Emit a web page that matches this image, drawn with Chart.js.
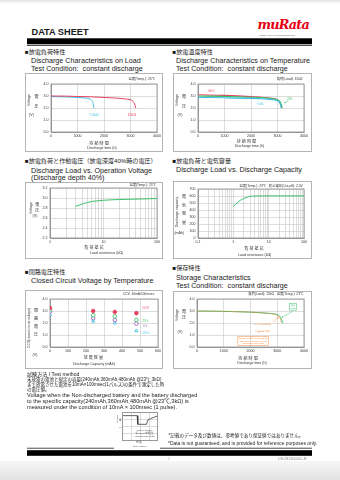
<!DOCTYPE html>
<html lang="ja">
<head>
<meta charset="utf-8">
<title>CR2450 Data Sheet</title>
<script src="https://cdn.jsdelivr.net/npm/chart.js@4.4.1/dist/chart.umd.min.js"></script>
<style>
  html, body { margin: 0; padding: 0; }
  body { width: 340px; height: 480px; position: relative; overflow: hidden; background: #fff;
         font-family: "Liberation Sans", Arial, "Noto Sans CJK JP", sans-serif; color: #1a1a1a; }
  .t { position: absolute; white-space: nowrap; line-height: 1; }
  .l { transform: translateY(-50%); }
  .c { transform: translate(-50%, -50%); }
  .r { transform: translate(-100%, -50%); }
  .rot { transform: translate(-50%, -50%) rotate(-90deg); }
  .jt { font-size: 6.1px; }
  .et { font-size: 7.2px; }
  .ax { font-size: 3.6px; color: #333; }
  .hd { font-size: 3.3px; color: #333; }
  .jp { font-size: 4px; color: #333; }
  .bj { font-size: 4.5px; color: #222; }
  .be { font-size: 5.6px; color: #222; }
  canvas { position: absolute; outline: 1px solid #b4b4b4; outline-offset: -1px; }
  #rules { position: absolute; left: 0; top: 0; }
</style>
</head>
<body>
<!-- 罫線と帯 -->
<svg id="rules" width="340" height="480" viewBox="0 0 340 480">
  <defs>
    <linearGradient id="shTop" x1="0" y1="0" x2="0" y2="1"><stop offset="0" stop-color="#e4e4e4"/><stop offset="1" stop-color="#fff"/></linearGradient>
    <linearGradient id="shBot" x1="0" y1="0" x2="0" y2="1"><stop offset="0" stop-color="#f7f7f7"/><stop offset="1" stop-color="#e2e2e2"/></linearGradient>
  </defs>
  <rect x="0" y="0" width="340" height="4" fill="url(#shTop)"/>
  <rect x="0" y="461" width="340" height="19" fill="url(#shBot)"/>
  <rect x="27" y="38.3" width="285" height="6" fill="#000"/>
  <rect x="27" y="45.2" width="285" height="0.7" fill="#000"/>
  <rect x="27" y="447.8" width="87" height="0.7" fill="#000"/>
  <rect x="160" y="447.8" width="152" height="0.7" fill="#000"/>
  <rect x="27" y="450.2" width="285" height="5.6" fill="#000"/>
</svg>

<!-- ヘッダー -->
<div class="t l" style="left:31.5px;top:33px;font-size:9.2px;font-weight:bold">DATA SHEET</div>
<div class="t" style="left:257.5px;top:18.5px;font-size:12.8px;font-weight:bold;font-style:italic;color:#e60012;font-family:'DejaVu Serif',serif;letter-spacing:-0.8px">muRata</div>
<div class="t" style="left:259px;top:33.6px;font-size:2.3px;color:#555;letter-spacing:0.1px">INNOVATOR IN ELECTRONICS</div>

<!-- 見出し -->
<div class="t l jt" style="left:25px;top:52px">■放電負荷特性</div>
<div class="t l et" style="left:31px;top:61px">Discharge Characteristics on Load</div>
<div class="t l et" style="left:31px;top:69px">Test Condition:&nbsp; constant discharge</div>

<div class="t l jt" style="left:172.5px;top:52px">■放電温度特性</div>
<div class="t l et" style="left:176px;top:61px">Discharge Characteristics on Temperature</div>
<div class="t l et" style="left:176px;top:69px">Test Condition:&nbsp; constant discharge</div>

<div class="t l jt" style="left:25px;top:161px">■放電負荷と作動電圧（放電深度40%時の電圧）</div>
<div class="t l et" style="left:31px;top:170.5px">Discharge Load vs. Operation Voltage</div>
<div class="t l et" style="left:31px;top:178.3px">(Discharge depth 40%)</div>

<div class="t l jt" style="left:172.5px;top:161px">■放電負荷と電気容量</div>
<div class="t l et" style="left:176px;top:170px">Discharge Load vs. Discharge Capacity</div>

<div class="t l jt" style="left:25px;top:272px">■閉路電圧特性</div>
<div class="t l et" style="left:31px;top:281.3px">Closed Circuit Voltage by Temperature</div>

<div class="t l jt" style="left:172.5px;top:268px">■保存特性</div>
<div class="t l et" style="left:176px;top:277.7px">Storage Characteristics</div>
<div class="t l et" style="left:176px;top:286px">Test Condition:&nbsp; constant discharge</div>

<!-- グラフ -->
<canvas id="cLoad" width="138" height="79" style="left:25px;top:73px"></canvas>
<canvas id="cTemp" width="139" height="79" style="left:173px;top:73px"></canvas>
<canvas id="cOpV" width="138" height="77" style="left:25px;top:182px"></canvas>
<canvas id="cCap" width="139" height="78" style="left:173px;top:181px"></canvas>
<canvas id="cCcv" width="138" height="79" style="left:25px;top:290px"></canvas>
<canvas id="cStore" width="139" height="78" style="left:173px;top:291px"></canvas>
<canvas id="cPulse" width="36" height="29" style="left:122px;top:411.5px;outline-color:#999"></canvas>

<!-- 軸ラベル: 放電負荷特性 -->
<div class="t r hd" style="left:155px;top:79.5px">温度(Temp.): 23℃</div>
<div class="t rot ax" style="left:30px;top:100px">Voltage</div>
<div class="t c jp" style="left:36.5px;top:97px">電</div>
<div class="t c jp" style="left:36.5px;top:107px">圧</div>
<div class="t c ax" style="left:31.5px;top:116px">(V)</div>
<div class="t c jp" style="left:99px;top:144.3px">持 続 時 間</div>
<div class="t c ax" style="left:102px;top:149.3px">Discharge time (h)</div>

<!-- 放電温度特性 -->
<div class="t r hd" style="left:302.5px;top:79.5px">負荷(Load): 15kΩ</div>
<div class="t rot ax" style="left:178px;top:100px">Voltage</div>
<div class="t c jp" style="left:184px;top:97px">電</div>
<div class="t c jp" style="left:184px;top:107px">圧</div>
<div class="t c ax" style="left:180px;top:115.7px">(V)</div>
<div class="t c jp" style="left:246.5px;top:141.8px">持 続 時 間</div>
<div class="t c ax" style="left:249.5px;top:147.3px">Discharge time (h)</div>

<!-- 放電負荷と作動電圧 -->
<div class="t r hd" style="left:156px;top:185.8px">温度(Temp.): 23℃</div>
<div class="t rot ax" style="left:31.7px;top:208.3px">Voltage</div>
<div class="t c jp" style="left:37.3px;top:205px">電</div>
<div class="t c jp" style="left:37.3px;top:210.5px">圧</div>
<div class="t c ax" style="left:35px;top:217.3px">(V)</div>
<div class="t c jp" style="left:94px;top:247.7px">負 荷 抵 抗</div>
<div class="t c ax" style="left:106.5px;top:254.3px">Load resistance (kΩ)</div>

<!-- 放電負荷と電気容量 -->
<div class="t r hd" style="left:302.7px;top:186.7px">温度(Temp.): 23℃&nbsp;&nbsp; 終止電圧(Cut-off): 2.0V</div>
<div class="t rot ax" style="left:178.3px;top:211.7px">Discharge capacity</div>
<div class="t c jp" style="left:184px;top:197px">電</div>
<div class="t c jp" style="left:184px;top:205.5px">気</div>
<div class="t c jp" style="left:184px;top:214px">容</div>
<div class="t c jp" style="left:184px;top:222.5px">量</div>
<div class="t c ax" style="left:179.3px;top:234px">(mAh)</div>
<div class="t c jp" style="left:254px;top:249px">負 荷 抵 抗</div>
<div class="t c ax" style="left:254.7px;top:255.7px">Load resistance (kΩ)</div>

<!-- 閉路電圧特性 -->
<div class="t r hd" style="left:154.3px;top:295.3px">CCV: 10mA/100msec</div>
<div class="t rot ax" style="left:30px;top:328px;font-size:3.3px">CCV(closed circuit voltage)</div>
<div class="t c jp" style="left:36px;top:311px">閉</div>
<div class="t c jp" style="left:36px;top:319px">路</div>
<div class="t c jp" style="left:36px;top:327px">電</div>
<div class="t c jp" style="left:36px;top:335px">圧</div>
<div class="t c ax" style="left:35px;top:356.3px">(V)</div>
<div class="t c jp" style="left:93.3px;top:358px">放 電 容 量</div>
<div class="t c ax" style="left:94px;top:365.3px">Discharge Capacity (mAh)</div>

<!-- 保存特性 -->
<div class="t r hd" style="left:303.3px;top:295.3px">負荷(Load): 15kΩ&nbsp;&nbsp; 温度(Temp.): 23℃</div>
<div class="t rot ax" style="left:178.3px;top:315.3px">Voltage</div>
<div class="t c jp" style="left:184px;top:312px">電</div>
<div class="t c jp" style="left:184px;top:318px">圧</div>
<div class="t c ax" style="left:180px;top:333px">(V)</div>
<div class="t c jp" style="left:248px;top:358.7px">持 続 時 間</div>
<div class="t c ax" style="left:252px;top:364.3px">Discharge time (h)</div>

<!-- 試験方法 -->
<div class="t l" style="left:27px;top:375px;font-size:5.1px">試験方法 / Test method</div>
<div class="t l bj" style="left:27px;top:380.3px">未放電の電池と規定の容量(240mAh,360mAh,480mAh @23℃,3kΩ)</div>
<div class="t l bj" style="left:27px;top:385.1px">まで放電させた電池を10mA×100msec(1パルス)の条件で測定した時</div>
<div class="t l bj" style="left:27px;top:389.9px">の電圧値。</div>
<div class="t l be" style="left:27px;top:396.3px">Voltage when the Non-discharged battery and the battery discharged</div>
<div class="t l be" style="left:27px;top:402.2px">to the specific capacity(240mAh,360mAh,480mAh @23℃,3kΩ) is</div>
<div class="t l be" style="left:27px;top:408.1px">measured under the condition of 10mA × 100msec (1 pulse).</div>

<div class="t rot" style="left:117.5px;top:419px;font-size:2.4px;color:#444">Voltage</div>
<div class="t c" style="left:120.3px;top:420.5px;font-size:2.4px;color:#444">電</div>
<div class="t c" style="left:120.3px;top:427.7px;font-size:2.4px;color:#444">(V)</div>
<div class="t c" style="left:144.5px;top:430.3px;font-size:2px;color:#444">Width of 100msec</div>
<div class="t c" style="left:144.5px;top:433.3px;font-size:2px;color:#444">幅(100ms)の電圧値</div>
<div class="t c" style="left:144.5px;top:436.3px;font-size:2px;color:#444">Load and Pulse length</div>
<div class="t c" style="left:139px;top:443px;font-size:2.4px;color:#444">時 間</div>
<div class="t c" style="left:140px;top:446.8px;font-size:2.4px;color:#444">time (msec.)</div>

<!-- 注記・フッター -->
<div class="t l" style="left:168.5px;top:435.7px;font-size:4.6px;color:#222">*記載のデータ及び数値は、参考値であり保証値ではありません。</div>
<div class="t l" style="left:168px;top:444px;font-size:4.9px;color:#222">*Data is not guaranteed, and is provided for reference purposes only.</div>
<div class="t c" style="left:169px;top:459.5px;font-size:2.6px;color:#888">1</div>
<div class="t r" style="left:306.7px;top:459.5px;font-size:3.2px;color:#888">DS-CR2450-002-JE</div>

<script>
// ---- 放電負荷特性 (15kΩ / 7.5kΩ) ----
const hours15k = [0, 500, 1000, 1500, 2000, 2500, 2800, 3000, 3100, 3150, 3200];
const volts15k = [3.0, 2.99, 2.96, 2.93, 2.88, 2.82, 2.76, 2.68, 2.55, 2.35, 2.0];
const hours7k5 = [0, 300, 600, 900, 1200, 1400, 1500, 1560, 1600, 1620];
const volts7k5 = [2.95, 2.94, 2.92, 2.89, 2.85, 2.8, 2.7, 2.55, 2.3, 2.0];

// ---- 放電温度特性 ----
const hours60c = [0, 1000, 2000, 2500, 2800, 3000, 3080, 3120, 3150];
const volts60c = [3.1, 3.05, 2.95, 2.88, 2.8, 2.68, 2.5, 2.25, 2.0];
const hours23c = [0, 1000, 2000, 2500, 2800, 3000, 3100, 3150, 3180];
const volts23c = [3.0, 2.97, 2.9, 2.84, 2.78, 2.68, 2.5, 2.25, 2.0];
const hoursM10c = [0, 1000, 2000, 2500, 2800, 3000, 3080, 3120, 3150];
const voltsM10c = [2.88, 2.85, 2.8, 2.75, 2.7, 2.6, 2.45, 2.22, 2.0];

// ---- 放電負荷と作動電圧 ----
const opLoad = [3, 4, 5, 6, 8, 10, 20, 50, 100];
const opVolt = [2.83, 2.88, 2.91, 2.93, 2.945, 2.955, 2.97, 2.98, 2.99];

// ---- 放電負荷と電気容量 ----
const capLoad = [1, 1.3, 1.6, 2, 2.5, 3, 4, 6, 10, 100];
const capMah = [450, 505, 540, 565, 585, 595, 600, 601, 602, 602];

// ---- 閉路電圧特性 ----
const ccvCapacity = [0, 240, 360, 480];
const ocvVolt = [3.25, 3.0, 2.92, 2.82];
const ccv23Volt = [3.12, 2.65, 2.55, 2.25];
const ccv0Volt = [2.95, 2.4, 2.25, 1.95];
const ccvM20Volt = [2.7, 2.15, 2.0, 1.35];

// ---- 保存特性 ----
const storeHoursInit = [0, 500, 1000, 1500, 2000, 2500, 2800, 3000, 3100, 3160, 3200];
const storeVoltInit = [3.0, 2.99, 2.97, 2.94, 2.9, 2.84, 2.78, 2.7, 2.55, 2.3, 2.0];
const storeHoursAged = [0, 500, 1000, 1500, 2000, 2500, 2800, 3000, 3080, 3130, 3160];
const storeVoltAged = [3.0, 2.99, 2.97, 2.94, 2.9, 2.83, 2.76, 2.66, 2.5, 2.2, 2.0];

// ---- パルス波形 (試験方法) ----
const pulseTime = [0, 42, 44, 68, 72, 80, 90, 100];
const pulseVolt = [3.5, 3.5, 2.3, 2.3, 2.9, 3.1, 3.3, 3.45];

// 目盛り
const hourTicks = [0, 1000, 2000, 3000, 4000];
const voltTicks = [0, 1, 2, 3, 4];
const opVoltTicks = [2.2, 2.4, 2.6, 2.8, 3.0, 3.2];
const capTicks = [0, 100, 200, 300, 400, 500, 600, 700];
const ccvCapTicks = [0, 100, 200, 300, 400, 500, 600];
const logGrid1to100 = [1, 2, 3, 4, 5, 6, 7, 8, 9, 10, 20, 30, 40, 50, 60, 70, 80, 90, 100];
const logGrid01to100 = [0.1, 0.2, 0.3, 0.4, 0.5, 0.6, 0.7, 0.8, 0.9].concat(logGrid1to100);
const logLabels = [0.1, 1, 10, 100];
const pulseTimeTicks = [0, 25, 50, 75, 100];
const pulseVoltTicks = [0, 1, 2, 3, 4];

const FONT = '"Liberation Sans", Arial, sans-serif';
Chart.defaults.font.family = FONT;
Chart.defaults.font.size = 3.6;
Chart.defaults.color = '#333';
Chart.defaults.animation = false;
Chart.defaults.plugins.legend.display = false;
Chart.defaults.plugins.tooltip.enabled = false;

const GRID = '#c6c6c6';
const FRAME = '#8c8c8c';
const RED = '#e8405f';
const BLUE = '#3fc1e6';
const GREEN = '#3cbf6a';
const PURPLE = '#9a5fc0';
const ORANGE = '#f08a3c';

function xy(xs, ys) { return xs.map((x, i) => ({ x, y: ys[i] })); }

// 軸: 目盛りの位置を配列から固定し、描画領域の幅/高さも固定する
function axis(type, gridTicks, fit, horizontal, label) {
  return {
    type,
    min: gridTicks[0],
    max: gridTicks[gridTicks.length - 1],
    afterBuildTicks: s => { s.ticks = gridTicks.map(v => ({ value: v })); },
    afterFit: s => { if (horizontal) s.height = fit; else s.width = fit; },
    grid: { color: GRID, lineWidth: 0.6, drawTicks: false },
    border: { color: FRAME, width: 0.8 },
    ticks: { padding: horizontal ? 2 : 2.4, maxRotation: 0, autoSkip: false, callback: label }
  };
}

const oneDec = v => v.toFixed(1);
const plain = v => String(v);
const logLabel = v => (logLabels.includes(v) ? String(v) : '');

function line(data, color, extra) {
  return Object.assign({
    data, borderColor: color, borderWidth: 1, pointRadius: 0,
    cubicInterpolationMode: 'monotone', fill: false
  }, extra || {});
}

// グラフ枠
const frame = {
  id: 'frame',
  beforeDatasetsDraw(chart) {
    const { ctx, chartArea: a } = chart;
    ctx.save();
    ctx.strokeStyle = FRAME;
    ctx.lineWidth = 0.8;
    ctx.strokeRect(a.left, a.top, a.right - a.left, a.bottom - a.top);
    ctx.restore();
  }
};

// グラフ内の注記 (データ座標で配置)
const notes = {
  id: 'notes',
  afterDatasetsDraw(chart, args, opts) {
    const { ctx, scales: { x, y } } = chart;
    (opts.items || []).forEach(n => {
      ctx.save();
      ctx.fillStyle = n.color;
      ctx.strokeStyle = n.color;
      ctx.lineWidth = 0.5;
      if (n.arrow) {
        const [x0, y0, x1, y1] = n.arrow.map((v, i) => (i % 2 ? y : x).getPixelForValue(v));
        ctx.beginPath(); ctx.moveTo(x0, y0); ctx.lineTo(x1, y1); ctx.stroke();
        const ang = Math.atan2(y1 - y0, x1 - x0);
        ctx.beginPath();
        ctx.moveTo(x1, y1);
        ctx.lineTo(x1 - 1.6 * Math.cos(ang - 0.5), y1 - 1.6 * Math.sin(ang - 0.5));
        ctx.lineTo(x1 - 1.6 * Math.cos(ang + 0.5), y1 - 1.6 * Math.sin(ang + 0.5));
        ctx.closePath(); ctx.fill();
      }
      const lines = n.lines || (n.text ? [n.text] : []);
      const size = n.size || 3.6;
      ctx.font = size + 'px ' + FONT;
      ctx.textAlign = 'center';
      ctx.textBaseline = 'middle';
      const cx = x.getPixelForValue(n.x), cy = y.getPixelForValue(n.y);
      const lh = size * 1.25;
      const top = cy - (lines.length - 1) * lh / 2;
      lines.forEach((s, i) => ctx.fillText(s, cx, top + i * lh));
      if (n.box) {
        const w = Math.max(...lines.map(s => ctx.measureText(s).width)) + 2;
        const h = lines.length * lh + 1;
        ctx.strokeRect(cx - w / 2, cy - h / 2, w, h);
      }
      ctx.restore();
    });
  }
};

function makeChart(id, datasets, scales, pad, items) {
  return new Chart(document.getElementById(id), {
    type: 'line',
    data: { datasets },
    options: {
      responsive: false,
      maintainAspectRatio: false,
      layout: { padding: Object.assign({ left: 0, bottom: 0 }, pad) },
      scales,
      plugins: { notes: { items: items || [] } }
    },
    plugins: [frame, notes]
  });
}

// 放電負荷特性
makeChart('cLoad', [
  line(xy(hours15k, volts15k), RED),
  line(xy(hours7k5, volts7k5), BLUE)
], {
  x: axis('linear', hourTicks, 20, true, plain),
  y: axis('linear', voltTicks, 26, false, oneDec)
}, { top: 11, right: 6 }, [
  { text: '7.5kΩ', x: 1620, y: 1.45, color: BLUE },
  { text: '15kΩ', x: 3050, y: 1.45, color: RED }
]);

// 放電温度特性
makeChart('cTemp', [
  line(xy(hoursM10c, voltsM10c), BLUE, { borderWidth: 1.1 }),
  line(xy(hours23c, volts23c), GREEN, { borderWidth: 1.1 }),
  line(xy(hours60c, volts60c), RED, { borderWidth: 1.1 })
], {
  x: axis('linear', hourTicks, 20, true, plain),
  y: axis('linear', voltTicks, 25, false, oneDec)
}, { top: 11, right: 8 }, [
  { text: '60℃', x: 520, y: 3.4, color: RED, size: 3.2 },
  { text: '23℃', x: 3480, y: 2.72, color: GREEN, size: 3.2, arrow: [3420, 2.6, 3250, 2.42] },
  { text: '−10℃', x: 2350, y: 2.36, color: BLUE, size: 3.2 }
]);

// 放電負荷と作動電圧
makeChart('cOpV', [
  line(xy(opLoad, opVolt), GREEN)
], {
  x: axis('logarithmic', logGrid1to100, 21, true, logLabel),
  y: axis('linear', opVoltTicks, 25, false, oneDec)
}, { top: 6, right: 6 });

// 放電負荷と電気容量
makeChart('cCap', [
  line(xy(capLoad, capMah), GREEN)
], {
  x: axis('logarithmic', logGrid01to100, 21, true, logLabel),
  y: axis('linear', capTicks, 25, false, plain)
}, { top: 8, right: 8 });

// 閉路電圧特性
function marks(ys, color, style, filled) {
  return {
    data: xy(ccvCapacity, ys), showLine: false, pointStyle: style,
    pointRadius: 1.8, pointBorderWidth: 0.9, pointBorderColor: color,
    pointBackgroundColor: filled ? color : '#fff'
  };
}
makeChart('cCcv', [
  marks(ocvVolt, RED, 'circle', true),
  marks(ccv23Volt, GREEN, 'circle', false),
  marks(ccv0Volt, PURPLE, 'circle', false),
  marks(ccvM20Volt, BLUE, 'triangle', false)
], {
  x: axis('linear', ccvCapTicks, 22, true, plain),
  y: axis('linear', voltTicks, 25, false, oneDec)
}, { top: 9, right: 2 }, [
  { text: 'OCV', x: 530, y: 3.22, color: RED, size: 3.2 },
  { text: '23℃', x: 530, y: 2.18, color: GREEN, size: 3.2 },
  { text: '0℃', x: 530, y: 1.72, color: PURPLE, size: 3.2 },
  { text: '−20℃', x: 530, y: 1.16, color: BLUE, size: 3.2 }
]);

// 保存特性
makeChart('cStore', [
  line(xy(storeHoursAged, storeVoltAged), ORANGE, { borderDash: [1.5, 1], borderWidth: 0.8 }),
  line(xy(storeHoursInit, storeVoltInit), GREEN)
], {
  x: axis('linear', hourTicks, 22, true, plain),
  y: axis('linear', voltTicks, 24, false, oneDec)
}, { top: 8, right: 8 }, [
  { lines: ['初期', 'Initial'], x: 3590, y: 3.35, color: GREEN, size: 2.3, box: true,
    arrow: [3560, 2.95, 3170, 2.45] },
  { text: '60℃ 100日保存後', x: 2450, y: 1.85, color: ORANGE, size: 2.4,
    arrow: [2850, 2.1, 3060, 2.5] },
  { text: '常温約5年に相当', x: 2450, y: 1.33, color: ORANGE, size: 2.4 },
  { lines: ['Storage at 60℃ for 100 days is', 'equivalent to storage at room', 'temperature for 5 years'],
    x: 2100, y: 0.5, color: ORANGE, size: 2.1, box: true }
]);

// パルス波形
new Chart(document.getElementById('cPulse'), {
  type: 'line',
  data: { datasets: [line(xy(pulseTime, pulseVolt), '#222', { cubicInterpolationMode: 'default', borderWidth: 0.7 })] },
  options: {
    responsive: false,
    layout: { padding: 0 },
    scales: {
      x: Object.assign(axis('linear', pulseTimeTicks, 0, true, plain), { ticks: { display: false } }),
      y: Object.assign(axis('linear', pulseVoltTicks, 0, false, plain), { ticks: { display: false } })
    }
  }
});
</script>
</body>
</html>
